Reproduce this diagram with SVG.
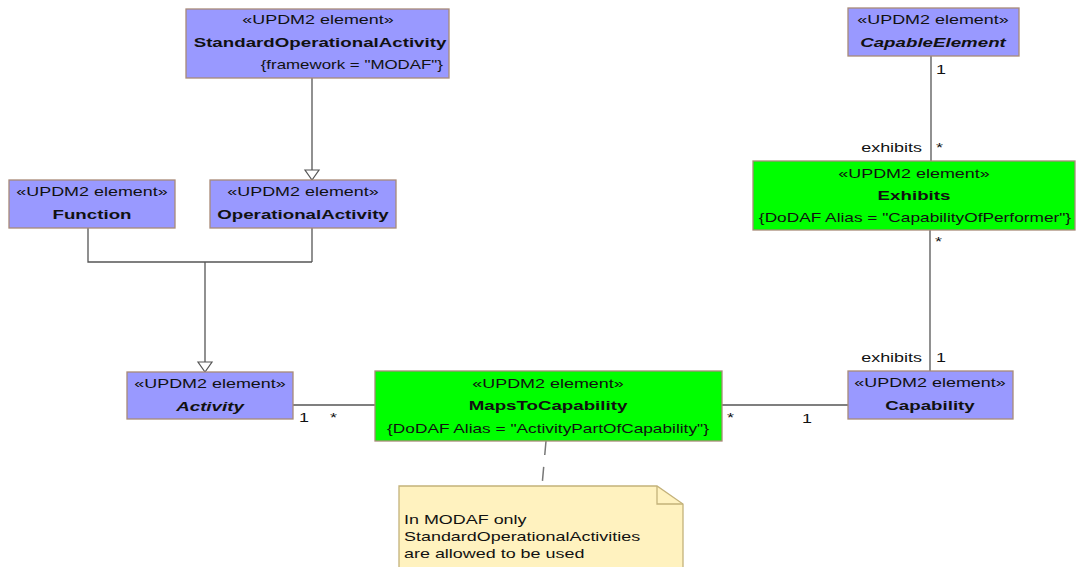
<svg xmlns="http://www.w3.org/2000/svg" width="1076" height="567" viewBox="0 0 1076 567">
<defs>
<style>
text{font-family:"Liberation Sans",Arial,sans-serif;font-size:13px;fill:#111}
.c{text-anchor:middle}
.e{text-anchor:end}
.b{font-weight:bold}
.bi{font-weight:bold;font-style:italic}
.blue{fill:#9999FF;stroke:#A88A78;stroke-width:1.3}
.green{fill:#00FF00;stroke:#A88A78;stroke-width:1.3}
.ln{fill:none;stroke:#555;stroke-width:1.3}
.tri{fill:#fff;stroke:#555;stroke-width:1.2}
</style>
</defs>
<rect width="1076" height="567" fill="#fff"/>
<g id="connectors">
<polyline class="ln" points="312,78 312,170"/>
<polygon class="tri" points="305,170 319,170 312,180"/>
<polyline class="ln" points="88,228 88,262 312,262"/>
<polyline class="ln" points="312,228 312,262"/>
<polyline class="ln" points="205,262 205,362"/>
<polygon class="tri" points="198,362 212,362 205,372"/>
<line class="ln" x1="293" y1="405" x2="375" y2="405"/>
<text transform="translate(299,422) scale(1.38,1)">1</text>
<text transform="translate(330,422) scale(1.38,1)">*</text>
<line class="ln" x1="722" y1="405" x2="848" y2="405"/>
<text transform="translate(727,422) scale(1.38,1)">*</text>
<text transform="translate(802,423) scale(1.38,1)">1</text>
<line class="ln" x1="931" y1="56" x2="931" y2="161"/>
<text transform="translate(936,74) scale(1.38,1)">1</text>
<text class="e" transform="translate(922,152) scale(1.38,1)">exhibits</text>
<text transform="translate(936,152) scale(1.38,1)">*</text>
<line class="ln" x1="930" y1="230" x2="930" y2="371"/>
<text transform="translate(935,246) scale(1.38,1)">*</text>
<text class="e" transform="translate(922,362) scale(1.38,1)">exhibits</text>
<text transform="translate(936,362) scale(1.38,1)">1</text>
<line x1="546" y1="441" x2="542" y2="486" stroke="#777" stroke-width="1.5" stroke-dasharray="14 12"/>
</g>
<g id="StandardOperationalActivity">
<rect class="blue" x="186" y="9" width="263" height="69"/>
<text class="c" transform="translate(318,24) scale(1.38,1)">«UPDM2 element»</text>
<text class="c b" transform="translate(320,47) scale(1.44,1)">StandardOperationalActivity</text>
<text class="e" transform="translate(443,69) scale(1.3,1)">{framework = "MODAF"}</text>
</g>
<g id="Function">
<rect class="blue" x="9" y="180" width="166" height="48"/>
<text class="c" transform="translate(92,196) scale(1.38,1)">«UPDM2 element»</text>
<text class="c b" transform="translate(92,219) scale(1.44,1)">Function</text>
</g>
<g id="OperationalActivity">
<rect class="blue" x="210" y="180" width="186" height="48"/>
<text class="c" transform="translate(303,196) scale(1.38,1)">«UPDM2 element»</text>
<text class="c b" transform="translate(303,219) scale(1.44,1)">OperationalActivity</text>
</g>
<g id="Activity">
<rect class="blue" x="127" y="372" width="166" height="47"/>
<text class="c" transform="translate(210,388) scale(1.38,1)">«UPDM2 element»</text>
<text class="c bi" transform="translate(210,411) scale(1.44,1)">Activity</text>
</g>
<g id="MapsToCapability">
<rect class="green" x="375" y="371" width="347" height="70"/>
<text class="c" transform="translate(548,388) scale(1.38,1)">«UPDM2 element»</text>
<text class="c b" transform="translate(548,410) scale(1.44,1)">MapsToCapability</text>
<text class="c" transform="translate(548,433) scale(1.33,1)">{DoDAF Alias = "ActivityPartOfCapability"}</text>
</g>
<g id="CapableElement">
<rect class="blue" x="848" y="8" width="171" height="48"/>
<text class="c" transform="translate(933,24) scale(1.38,1)">«UPDM2 element»</text>
<text class="c bi" transform="translate(933,47) scale(1.44,1)">CapableElement</text>
</g>
<g id="Exhibits">
<rect class="green" x="753" y="161" width="322" height="69"/>
<text class="c" transform="translate(914,178) scale(1.38,1)">«UPDM2 element»</text>
<text class="c b" transform="translate(914,200) scale(1.44,1)">Exhibits</text>
<text class="c" transform="translate(915,222) scale(1.33,1)">{DoDAF Alias = "CapabilityOfPerformer"}</text>
</g>
<g id="Capability">
<rect class="blue" x="848" y="371" width="165" height="48"/>
<text class="c" transform="translate(930,387) scale(1.38,1)">«UPDM2 element»</text>
<text class="c b" transform="translate(930,410) scale(1.44,1)">Capability</text>
</g>
<g id="Note">
<polygon points="399,486 657,486 683,504 683,570 399,570" fill="#FFF2BF" stroke="#C4B27A" stroke-width="1.3"/>
<polyline points="657,486 657,504 683,504" fill="none" stroke="#C4B27A" stroke-width="1.3"/>
<text transform="translate(404,524) scale(1.38,1)">In MODAF only</text>
<text transform="translate(404,541) scale(1.38,1)">StandardOperationalActivities</text>
<text transform="translate(404,558) scale(1.38,1)">are allowed to be used</text>
</g>
</svg>
